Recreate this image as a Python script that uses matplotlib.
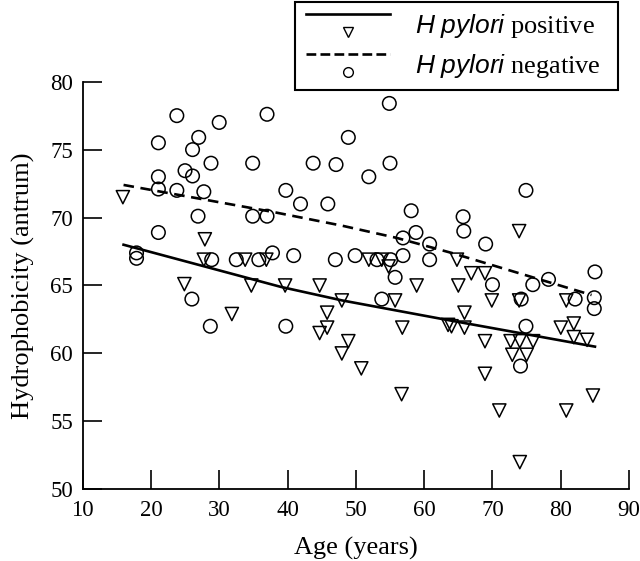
import matplotlib
matplotlib.use("Agg")
import matplotlib.pyplot as plt
from matplotlib.legend_handler import HandlerBase
from matplotlib.lines import Line2D
import numpy as np

## Data

# H pylori positive (triangles)
pos_age = [15.9, 27.9, 27.75, 33.8, 36.9, 24.9, 34.7, 31.85,
           39.65, 44.7, 58.9, 47.95, 55.75, 45.8, 45.8, 44.7, 56.8,
           48.9, 47.95, 50.8, 56.7, 51.9, 53.8, 54.8,
           73.9, 64.8, 66.9, 68.9, 65.0, 69.9, 73.9, 80.8,
           65.9, 63.5, 64.0, 65.9, 80.0, 81.9, 81.9, 83.85,
           72.65, 74.0, 75.95, 68.9, 72.9, 75.0, 68.9, 84.7,
           71.0, 80.8, 74.0]
pos_hyd = [71.5, 68.4, 66.9, 66.9, 66.9, 65.1, 65.0, 62.9,
           65.0, 65.0, 65.0, 63.9, 63.9, 63.0, 61.9, 61.5, 61.9,
           60.9, 60.0, 58.9, 57.0, 66.9, 66.9, 66.4,
           69.0, 66.9, 65.9, 65.9, 65.0, 63.9, 63.9, 63.9,
           63.0, 62.1, 62.0, 61.9, 61.9, 62.2, 61.2, 61.0,
           60.9, 60.9, 60.9, 60.9, 59.9, 59.9, 58.5, 56.9,
           55.8, 55.8, 52.0]

# H pylori negative (circles)
neg_age = [23.8, 30.0, 37.0, 21.1, 27.0, 26.1, 28.8, 34.9, 25.0, 26.1,
           21.1, 21.1, 23.8, 27.75, 26.9, 34.9, 37.0, 21.1, 17.9, 17.9,
           28.9, 32.5, 35.8, 37.8, 26.0, 28.7,
           54.9, 48.9, 43.75, 47.1, 55.0, 51.9, 39.75, 41.9, 45.9, 58.1,
           58.8, 56.9, 60.8, 40.9, 47.0, 49.9, 53.1, 55.1, 56.9, 60.8,
           55.75, 53.8, 39.75,
           74.9, 65.7, 65.8, 69.0, 85.0, 70.0, 75.9, 78.2, 74.2, 82.1,
           84.9, 84.9, 74.9, 74.1]
neg_hyd = [77.5, 77.0, 77.6, 75.5, 75.9, 75.0, 74.0, 74.0, 73.45, 73.06,
           73.0, 72.1, 72.0, 71.9, 70.1, 70.1, 70.1, 68.9, 67.4, 67.0,
           66.9, 66.9, 66.9, 67.4, 64.0, 62.0,
           78.4, 75.9, 74.0, 73.9, 74.0, 73.0, 72.0, 71.0, 71.0, 70.5,
           68.9, 68.5, 68.05, 67.2, 66.9, 67.2, 66.9, 66.9, 67.2, 66.9,
           65.6, 64.0, 62.0,
           72.0, 70.06, 69.0, 68.05, 66.0, 65.06, 65.06, 65.45, 64.0, 64.0,
           64.1, 63.3, 62.0, 59.07]

# Smoothed trend lines
pos_fit_age = [16, 39, 48, 63, 85]
pos_fit_hyd = [68.0, 64.9, 63.9, 62.5, 60.5]
neg_fit_age = [16, 38, 48, 56, 64, 84.5]
neg_fit_hyd = [72.4, 70.4, 69.4, 68.5, 67.4, 64.3]

x_ticks = [10, 20, 30, 40, 50, 60, 70, 80, 90]
y_ticks = [50, 55, 60, 65, 70, 75, 80]


## Legend handler: line on top, marker underneath
class LineOverMarker(HandlerBase):
    def create_artists(self, legend, orig_handle, xdescent, ydescent,
                       width, height, fontsize, trans):
        line, mark = orig_handle
        x0 = -xdescent
        y_top = -ydescent + height * 1.0
        y_bot = -ydescent + height * 0.02
        l = Line2D([x0, x0 + width], [y_top, y_top], color="black",
                   linestyle=line.get_linestyle(), lw=line.get_linewidth(),
                   transform=trans)
        m = Line2D([x0 + width / 2], [y_bot], marker=mark.get_marker(),
                   markersize=7, markerfacecolor="none",
                   markeredgecolor="black", markeredgewidth=1.0,
                   linestyle="none", transform=trans)
        return [l, m]


plt.rcParams["font.family"] = "Liberation Serif"
plt.rcParams["mathtext.fontset"] = "custom"
plt.rcParams["mathtext.it"] = "Liberation Sans:italic"
plt.rcParams["mathtext.rm"] = "Liberation Sans"

fig = plt.figure(figsize=(6.4, 5.61), dpi=100)
ax = fig.add_axes([0.129, 0.1278, 0.854, 0.7266])

ax.scatter(pos_age, pos_hyd, marker="v", s=90, facecolors="none",
           edgecolors="black", linewidths=1.1, zorder=3)
ax.scatter(neg_age, neg_hyd, marker="o", s=95, facecolors="none",
           edgecolors="black", linewidths=1.1, zorder=3)
ax.plot(pos_fit_age, pos_fit_hyd, color="black", lw=1.9)
ax.plot(neg_fit_age, neg_fit_hyd, color="black", lw=1.9, ls=(0, (4, 2.5)))

ax.set_xlim(10, 90)
ax.set_ylim(50, 80)
ax.set_xticks(x_ticks)
ax.set_yticks(y_ticks)
ax.spines["top"].set_visible(False)
ax.spines["right"].set_visible(False)
for s in ["left", "bottom"]:
    ax.spines[s].set_linewidth(1.3)
ax.tick_params(direction="in", length=13.5, width=1.2, labelsize=16.5)
ax.tick_params(axis="y", pad=7)
ax.tick_params(axis="x", pad=8)
ax.set_xlabel("Age (years)", fontsize=19, labelpad=11)
ax.set_ylabel("Hydrophobicity (antrum)", fontsize=19, labelpad=11)

pos_line = Line2D([], [], color="black", lw=1.9)
pos_mark = Line2D([], [], marker="v", linestyle="none")
neg_line = Line2D([], [], color="black", lw=1.9, ls=(0, (4, 2.5)))
neg_mark = Line2D([], [], marker="o", linestyle="none")

leg = fig.legend([(pos_line, pos_mark), (neg_line, neg_mark)],
                 [r"$\mathit{H}$ $\mathit{pylori}$ positive  ",
                  r"$\mathit{H}$ $\mathit{pylori}$ negative  "],
                 handler_map={tuple: LineOverMarker()},
                 loc="upper right", bbox_to_anchor=(0.966, 0.997),
                 bbox_transform=fig.transFigure, borderaxespad=0,
                 fontsize=19, handlelength=3.2, handleheight=0.7,
                 handletextpad=0.95, labelspacing=0.45, borderpad=0.38,
                 fancybox=False, framealpha=1, edgecolor="black")
leg.get_frame().set_linewidth(1.5)

fig.savefig("out.png", dpi=100)
